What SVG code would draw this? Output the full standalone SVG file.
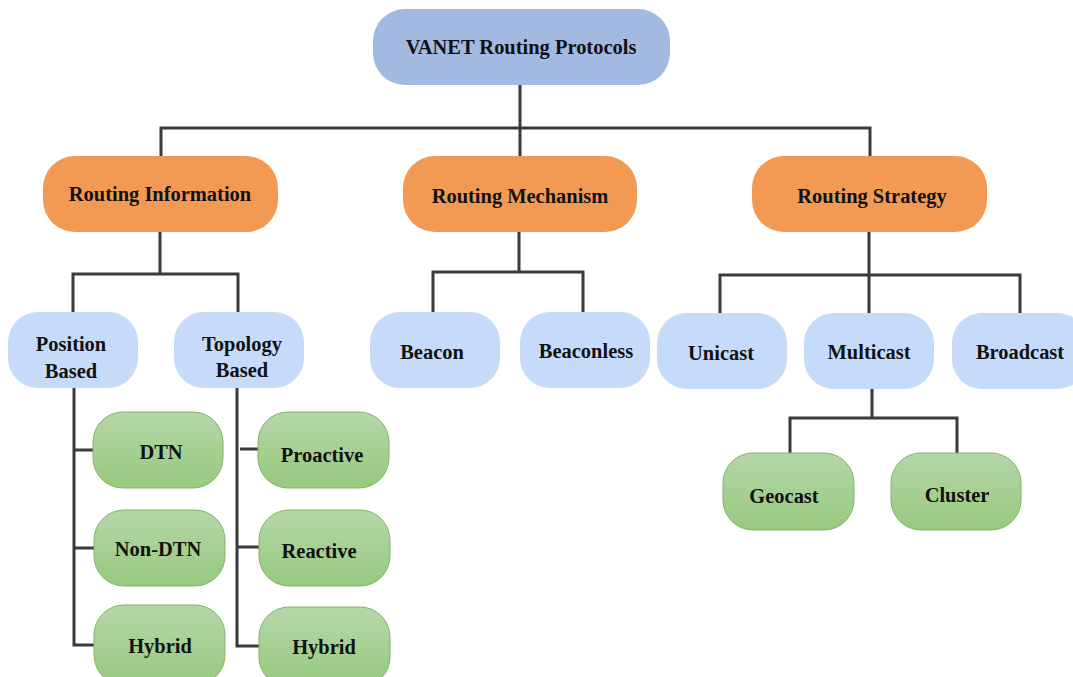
<svg xmlns="http://www.w3.org/2000/svg" width="1073" height="677" viewBox="0 0 1073 677">
  <defs>
    <linearGradient id="greenFill" x1="0" y1="0" x2="0" y2="1">
      <stop offset="0" stop-color="#B5D7A8"/>
      <stop offset="1" stop-color="#97C97F"/>
    </linearGradient>
  </defs>
  <style>
    .root { fill: #A2B9E1; }
    .cat { fill: #F29A53; }
    .sub { fill: #C6DBF9; }
    .leaf { fill: url(#greenFill); stroke: #82B366; stroke-width: 1; }
    .lbl { font-family: "Liberation Serif", "Times New Roman", serif; font-weight: bold; font-size: 22px; fill: #111; text-anchor: middle; }
    .wire { fill: none; stroke: #3A3A3A; stroke-width: 3; }
  </style>

  <g id="connectors">
    <path class="wire" d="M520 85 V156 M161 156 V128 H870 V156"/>
    <path class="wire" d="M160 232 V274 M73 312 V274 H238 V312"/>
    <path class="wire" d="M519 232 V272 M433 312 V272 H583 V312"/>
    <path class="wire" d="M869 232 V313 M720 313 V275 H1020 V313"/>
    <path class="wire" d="M872 388 V418 M790 453 V418 H957 V453"/>
    <path class="wire" d="M74 388 V645 H95 M74 450 H93 M74 548 H94"/>
    <path class="wire" d="M237 388 V646 H259 M240 449 H258 M237 547 H259"/>
  </g>

  <g id="vanet-routing-protocols">
    <rect class="root" x="373" y="9" width="297" height="76" rx="32"/>
    <text class="lbl" transform="translate(521 54) scale(0.93 1)">VANET Routing Protocols</text>
  </g>

  <g id="routing-information">
    <rect class="cat" x="43" y="156" width="235" height="76" rx="32"/>
    <text class="lbl" transform="translate(160 201) scale(0.93 1)">Routing Information</text>
  </g>
  <g id="routing-mechanism">
    <rect class="cat" x="403" y="156" width="234" height="76" rx="32"/>
    <text class="lbl" transform="translate(520 203) scale(0.93 1)">Routing Mechanism</text>
  </g>
  <g id="routing-strategy">
    <rect class="cat" x="752" y="156" width="235" height="76" rx="32"/>
    <text class="lbl" transform="translate(872 203) scale(0.93 1)">Routing Strategy</text>
  </g>

  <g id="position-based">
    <rect class="sub" x="8" y="312" width="130" height="76" rx="30"/>
    <text class="lbl" transform="translate(71 351) scale(0.93 1)">Position</text>
    <text class="lbl" transform="translate(71 378) scale(0.93 1)">Based</text>
  </g>
  <g id="topology-based">
    <rect class="sub" x="174" y="312" width="130" height="76" rx="30"/>
    <text class="lbl" transform="translate(242 351) scale(0.93 1)">Topology</text>
    <text class="lbl" transform="translate(242 377) scale(0.93 1)">Based</text>
  </g>
  <g id="beacon">
    <rect class="sub" x="370" y="312" width="130" height="76" rx="30"/>
    <text class="lbl" transform="translate(432 359) scale(0.93 1)">Beacon</text>
  </g>
  <g id="beaconless">
    <rect class="sub" x="520" y="312" width="130" height="76" rx="30"/>
    <text class="lbl" transform="translate(586 358) scale(0.93 1)">Beaconless</text>
  </g>
  <g id="unicast">
    <rect class="sub" x="657" y="313" width="130" height="76" rx="30"/>
    <text class="lbl" transform="translate(721 360) scale(0.93 1)">Unicast</text>
  </g>
  <g id="multicast">
    <rect class="sub" x="804" y="313" width="130" height="76" rx="30"/>
    <text class="lbl" transform="translate(869 359) scale(0.93 1)">Multicast</text>
  </g>
  <g id="broadcast">
    <rect class="sub" x="952" y="313" width="135" height="76" rx="30"/>
    <text class="lbl" transform="translate(1020 359) scale(0.93 1)">Broadcast</text>
  </g>

  <g id="dtn">
    <rect class="leaf" x="93" y="412" width="130" height="76" rx="30"/>
    <text class="lbl" transform="translate(161 459) scale(0.93 1)">DTN</text>
  </g>
  <g id="non-dtn">
    <rect class="leaf" x="94" y="510" width="131" height="76" rx="30"/>
    <text class="lbl" transform="translate(158 556) scale(0.93 1)">Non-DTN</text>
  </g>
  <g id="hybrid-position">
    <rect class="leaf" x="94" y="605" width="131" height="80" rx="30"/>
    <text class="lbl" transform="translate(160 653) scale(0.93 1)">Hybrid</text>
  </g>
  <g id="proactive">
    <rect class="leaf" x="258" y="412" width="131" height="76" rx="30"/>
    <text class="lbl" transform="translate(322 462) scale(0.93 1)">Proactive</text>
  </g>
  <g id="reactive">
    <rect class="leaf" x="259" y="510" width="131" height="76" rx="30"/>
    <text class="lbl" transform="translate(319 558) scale(0.93 1)">Reactive</text>
  </g>
  <g id="hybrid-topology">
    <rect class="leaf" x="259" y="607" width="131" height="80" rx="30"/>
    <text class="lbl" transform="translate(324 654) scale(0.93 1)">Hybrid</text>
  </g>
  <g id="geocast">
    <rect class="leaf" x="723" y="453" width="131" height="77" rx="30"/>
    <text class="lbl" transform="translate(784 503) scale(0.93 1)">Geocast</text>
  </g>
  <g id="cluster">
    <rect class="leaf" x="891" y="453" width="130" height="77" rx="30"/>
    <text class="lbl" transform="translate(957 502) scale(0.93 1)">Cluster</text>
  </g>
</svg>
